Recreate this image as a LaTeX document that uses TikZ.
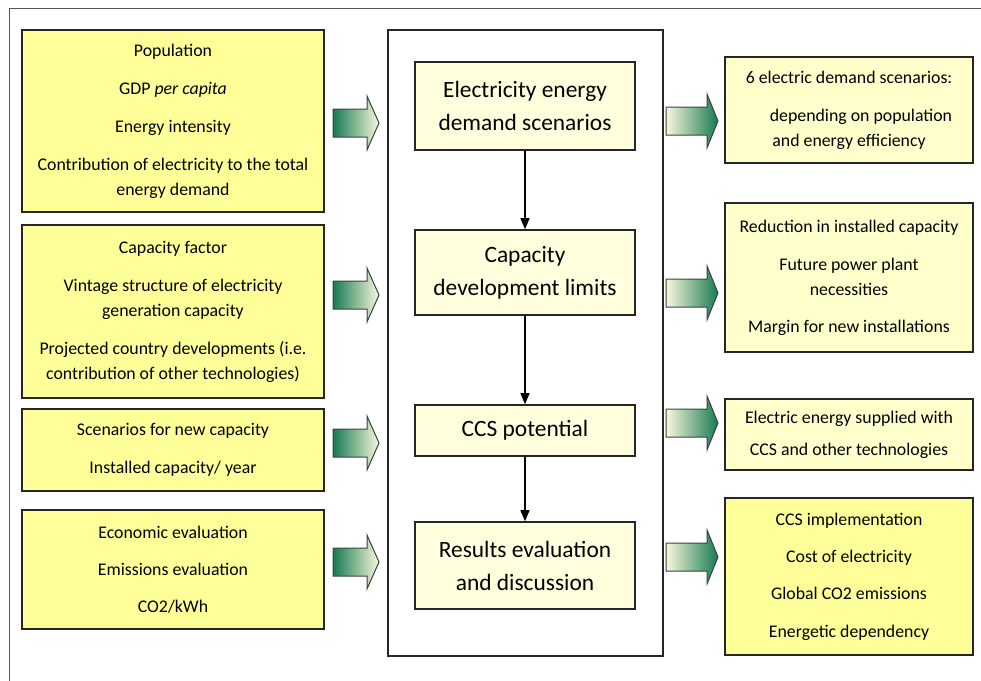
\documentclass[tikz,border=0pt]{standalone}
\usepackage{fontspec}
\setmainfont{Carlito}
\usetikzlibrary{arrows.meta}
\definecolor{boxyellow}{HTML}{FFFF99}
\definecolor{boxcream}{HTML}{FFFFCC}
\definecolor{centercream}{HTML}{FFFFDD}
\definecolor{arrowgreen}{RGB}{22,122,82}
\definecolor{arrowpale}{HTML}{F8F8DC}
\definecolor{framegray}{HTML}{555555}
\begin{document}
\begin{tikzpicture}[x=1pt,y=-1pt,
  sidebox/.style={draw=black!85, line width=1.6pt, fill=boxyellow, align=center, inner sep=0pt,
    font=\fontsize{17.8}{25}\selectfont},
  crbox/.style={sidebox, fill=boxcream},
  midbox/.style={draw=black!85, line width=1.6pt, fill=centercream, align=center, inner sep=0pt,
    minimum width=220pt, font=\fontsize{23.4}{33}\selectfont},
  flow/.style={-{Triangle[width=9pt,length=11pt]}, line width=1.2pt, black},
  larrow/.pic={\path[draw=black!75, line width=1pt, left color=arrowgreen, right color=arrowpale]
     (-23,-14) -- (11,-14) -- (11,-27) -- (23,0) -- (11,27) -- (11,14) -- (-23,14) -- cycle;},
  rarrow/.pic={\path[draw=black!75, line width=1pt, left color=arrowpale, right color=arrowgreen]
     (-26,-14) -- (15,-14) -- (15,-27) -- (26,0) -- (15,27) -- (15,14) -- (-26,14) -- cycle;}
]
\useasboundingbox (0,0) rectangle (981,680);
% outer frame
\draw[framegray, line width=0.6pt, double=white, double distance=1pt] (10,682) -- (10,9) -- (983,9);

% left input boxes
\node[sidebox, minimum width=302pt, minimum height=182pt] (L1) at (173,121)
  {Population\\[13pt] GDP \textit{per capita}\\[13pt] Energy intensity\\[13pt]
   Contribution of electricity to the total\\ energy demand};
\node[sidebox, minimum width=302pt, minimum height=173pt] (L2) at (173,311.5)
  {Capacity factor\\[13pt] Vintage structure of electricity\\ generation capacity\\[13pt]
   Projected country developments (i.e.\\ contribution of other technologies)};
\node[sidebox, minimum width=302pt, minimum height=82pt] (L3) at (173,450)
  {Scenarios for new capacity\\[13pt] Installed capacity/ year};
\node[sidebox, minimum width=302pt, minimum height=119pt] (L4) at (173,569.5)
  {Economic evaluation\\[12pt] Emissions evaluation\\[12pt] CO2/kWh};

% central frame and steps
\node[draw=black!85, line width=1.2pt, minimum width=275pt, minimum height=626pt, inner sep=0pt] (frame) at (525.5,343) {};
\node[midbox, minimum height=88pt] (C1) at (525,106) {Electricity energy\\ demand scenarios};
\node[midbox, minimum height=85pt] (C2) at (525,272.5) {Capacity\\ development limits};
\node[midbox, minimum height=51pt] (C3) at (525,430.5) {CCS potential};
\node[midbox, minimum height=87pt] (C4) at (525,565.5) {Results evaluation\\ and discussion};
\draw[flow] (C1.south) -- (C2.north);
\draw[flow] (C2.south) -- (C3.north);
\draw[flow] (C3.south) -- (C4.north);

% right output boxes
\node[crbox, minimum width=248pt, minimum height=106pt] (R1) at (849,110)
  {6 electric demand scenarios:\\[13pt] \hspace*{24pt}depending on population\\ and energy efficiency};
\node[crbox, minimum width=248pt, minimum height=149pt] (R2) at (849,277.5)
  {Reduction in installed capacity\\[13pt] Future power plant\\ necessities\\[12pt] Margin for new installations};
\node[crbox, minimum width=248pt, minimum height=71pt] (R3) at (849,434.5)
  {Electric energy supplied with\\[7pt] CCS and other technologies};
\node[sidebox, minimum width=248pt, minimum height=157pt] (R4) at (849,576.5)
  {CCS implementation\\[12pt] Cost of electricity\\[12pt] Global CO2 emissions\\[13pt] Energetic dependency};

% block arrows
\pic at (356,123) {larrow};
\pic at (356,295) {larrow};
\pic at (356,443) {larrow};
\pic at (356,562) {larrow};
\pic at (692,121) {rarrow};
\pic at (692,293) {rarrow};
\pic at (692,423) {rarrow};
\pic at (692,557) {rarrow};
\end{tikzpicture}
\end{document}
